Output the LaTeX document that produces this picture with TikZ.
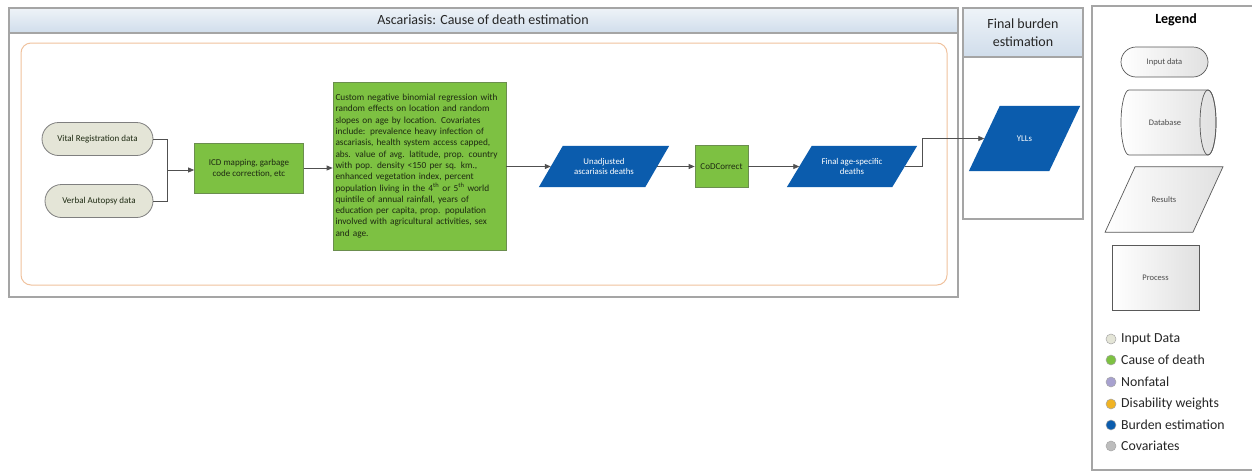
\documentclass[tikz,border=0pt]{standalone}
\usepackage{fontspec}
\setmainfont{Carlito}
\usetikzlibrary{shapes.geometric,shapes.misc,arrows.meta,calc,backgrounds}
\definecolor{inputfill}{HTML}{E4E5D7}
\definecolor{inputdraw}{HTML}{7F7F7F}
\definecolor{cgreen}{HTML}{7DC142}
\definecolor{cgreendraw}{HTML}{6B8E4E}
\definecolor{cblue}{HTML}{0B5CAD}
\definecolor{corange}{HTML}{F0C29E}
\definecolor{cframe}{HTML}{A5A5A5}
\definecolor{hdrtop}{HTML}{EEF3F8}
\definecolor{hdrbot}{HTML}{D0DDEB}
\definecolor{cnonfatal}{HTML}{A7A1CF}
\definecolor{cdisab}{HTML}{F0B323}
\definecolor{ccovar}{HTML}{BDBDBD}
\definecolor{cline}{HTML}{505050}
\definecolor{ctext}{HTML}{1E2A12}
\newcommand\parafill[3]{\path[#3] ($(#1.north west)+(#2/2,0)$) -- ($(#1.north east)+(#2/2,0)$) -- ($(#1.south east)-(#2/2,0)$) -- ($(#1.south west)-(#2/2,0)$) -- cycle;}
\begin{document}
\begin{tikzpicture}[x=1pt,y=-1pt,
  frame/.style={draw=cframe, line width=1.2pt},
  hdr/.style={top color=hdrtop, bottom color=hdrbot, draw=cframe, line width=1.2pt},
  inputnode/.style={rounded rectangle, draw=inputdraw, fill=inputfill, line width=0.8pt, inner sep=0pt, font=\fontsize{9}{11}\selectfont, text=ctext},
  procnode/.style={rectangle, draw=cgreendraw, fill=cgreen, line width=0.7pt, inner sep=0pt, font=\fontsize{9}{11}\selectfont, text=ctext, align=center},
  bluetext/.style={rectangle, inner sep=0pt, font=\fontsize{8.8}{10.5}\selectfont, text=white, align=center},
  arr/.style={draw=cline, line width=0.8pt, -{Triangle[length=6pt,width=5pt]}},
  lnk/.style={draw=cline, line width=0.8pt},
  legshape/.style={draw=black!65, line width=0.7pt, left color=white, right color=black!12, inner sep=0pt, font=\fontsize{8.5}{10}\selectfont, text=black!70},
  legtext/.style={inner sep=0pt, font=\fontsize{8.5}{10}\selectfont, text=black!70},
  legdot/.style={circle, inner sep=0pt, minimum size=10pt, draw=black!35, line width=0.5pt},
  leglabel/.style={anchor=west, inner sep=0pt, font=\fontsize{13.8}{15}\selectfont, text=black!85}
]
\useasboundingbox (0,0) rectangle (1252,472);

% frames (background layer, drawn first)
\begin{scope}[on background layer]
\fill[white] (0,0) rectangle (1252,472);
\draw[frame, fill=white] (9,8) rectangle (958,297);
\draw[hdr] (9,8) rectangle (958,33);
\draw[draw=corange, line width=1pt, rounded corners=10pt] (21,43) rectangle (947,285);
\draw[frame, fill=white] (963,8) rectangle (1083,219);
\draw[hdr] (963,8) rectangle (1083,57);
\draw[frame] (1262,6) -- (1092,6) -- (1092,470) -- (1262,470);
\end{scope}

\node[font=\fontsize{14}{16}\selectfont, text=black!85] (title) at (483,20) {Ascariasis: Cause of death estimation};
\node[font=\fontsize{14}{18}\selectfont, text=black!85, align=center] (fbtitle) at (1023,33) {Final burden\\estimation};
\node[font=\bfseries\fontsize{14}{16}\selectfont] (legtitle) at (1176,20) {Legend};

% flow nodes
\node[inputnode, minimum width=111pt, minimum height=33pt] (vr) at (97.5,139) {Vital Registration data};
\node[inputnode, minimum width=108pt, minimum height=33pt] (va) at (99,201) {Verbal Autopsy data};
\coordinate (j) at (167,170);
\node[procnode, minimum width=109pt, minimum height=50pt] (icd) at (249,168) {ICD mapping, garbage\\code correction, etc};
\node[procnode, minimum width=173pt, minimum height=168pt, align=left, text width=168pt, font=\fontsize{9.3}{11.3}\selectfont] (big) at (419.5,166) {Custom negative binomial regression with\\random effects on location and random\\slopes on age by location. Covariates\\include: prevalence heavy infection of\\ascariasis, health system access capped,\\abs. value of avg. latitude, prop. country\\with pop. density {<}150 per sq. km.,\\enhanced vegetation index, percent\\population living in the 4\textsuperscript{th} or 5\textsuperscript{th} world\\quintile of annual rainfall, years of\\education per capita, prop. population\\involved with agricultural activities, sex\\and age.};
\node[bluetext, minimum width=106pt, minimum height=41pt] (un) at (604,166.5) {Unadjusted\\ascariasis deaths};
\node[procnode, minimum width=53pt, minimum height=42pt] (cod) at (721.5,166.5) {CoDCorrect};
\node[bluetext, minimum width=105pt, minimum height=41pt] (fin) at (852,166.5) {Final age-specific\\deaths};
\node[bluetext, minimum width=80pt, minimum height=65pt] (yll) at (1024.5,138.5) {YLLs};

\begin{scope}[on background layer]
\parafill{un}{24}{fill=cblue}
\parafill{fin}{25}{fill=cblue}
\parafill{yll}{31}{fill=cblue}
\end{scope}

% connectors
\draw[lnk] (vr.east) -| (j);
\draw[lnk] (va.east) -| (j);
\draw[arr] (j) -- (j -| icd.west);
\draw[arr] (icd.east) -- (icd.east -| big.west);
\draw[arr] (big.east |- un.west) -- (un.west);
\draw[arr] (un.east) -- (cod.west);
\draw[arr] (cod.east) -- (fin.west);
\draw[arr] (fin.east) -- ++(18,0) |- (yll.west);

% legend shapes
\node[legshape, rounded rectangle, minimum width=87pt, minimum height=30pt] (lin) at (1164.5,62) {Input data};
% database cylinder
\path[draw=black!65, line width=0.7pt, left color=white, right color=black!12]
  (1208,90) -- (1129,90) arc[start angle=270, end angle=90, x radius=8, y radius=32.5]
  -- (1208,155) arc[start angle=90, end angle=-90, x radius=8, y radius=32.5] -- cycle;
\draw[black!65, line width=0.7pt] (1208,122.5) ellipse [x radius=8, y radius=32.5];
\node[legtext] (ldb) at (1165,122.5) {Database};
\node[legtext, rectangle, minimum width=87.5pt, minimum height=65pt] (lres) at (1164,199.5) {Results};
\begin{scope}[on background layer]
\parafill{lres}{30}{draw=black!65, line width=0.7pt, left color=white, right color=black!12}
\end{scope}
\node[legshape, rectangle, minimum width=87pt, minimum height=65pt] (lproc) at (1155.5,277.5) {Process};

% colour legend
\node[legdot, fill=inputfill] (d1) at (1111,339) {};
\node[leglabel] (t1) at (1121,339) {Input Data};
\node[legdot, fill=cgreen] (d2) at (1111,360) {};
\node[leglabel] (t2) at (1121,360) {Cause of death};
\node[legdot, fill=cnonfatal] (d3) at (1111,382) {};
\node[leglabel] (t3) at (1121,382) {Nonfatal};
\node[legdot, fill=cdisab] (d4) at (1111,404) {};
\node[leglabel] (t4) at (1121,404) {Disability weights};
\node[legdot, fill=cblue] (d5) at (1111,425) {};
\node[leglabel] (t5) at (1121,425) {Burden estimation};
\node[legdot, fill=ccovar] (d6) at (1111,446) {};
\node[leglabel] (t6) at (1121,446) {Covariates};
\end{tikzpicture}
\end{document}
